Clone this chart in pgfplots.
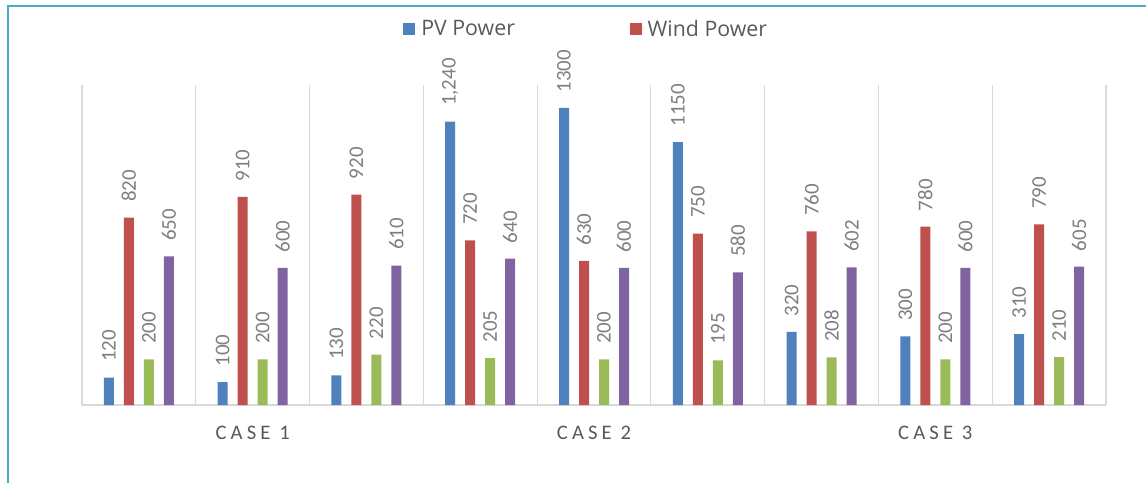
\documentclass[border=0pt]{standalone}
\usepackage{pgfplots}
\pgfplotsset{compat=1.18}
\usepackage{fontspec}
\setmainfont{Carlito}
\newfontfamily\legendfont{Open Sans}
\newfontfamily\casefont[LetterSpace=20]{Carlito}
\definecolor{pvblue}{HTML}{4F81BD}
\definecolor{windred}{HTML}{C0504D}
\definecolor{thirdgreen}{HTML}{9BBB59}
\definecolor{fourthpurple}{HTML}{8064A2}
\definecolor{framecol}{HTML}{4BACC6}
\definecolor{gridgray}{HTML}{D9D9D9}
\definecolor{labelgray}{HTML}{7F7F7F}
\definecolor{textgray}{HTML}{595959}

\begin{document}
\begin{tikzpicture}
\useasboundingbox (0,0) rectangle (859.5pt,361.5pt);
% outer frame (left and top edges)
\draw[framecol, line width=1.1pt] (6pt,-2pt) -- (6pt,357pt) -- (862pt,357pt);
\begin{axis}[
  at={(61.5pt,57.75pt)}, anchor=south west,
  width=768pt, height=240pt, scale only axis,
  xmin=-0.5, xmax=8.5, ymin=0, ymax=1400,
  ybar=7.5pt, bar width=7.5pt,
  axis y line=none,
  axis x line*=bottom,
  x axis line style={gridgray, line width=1.1pt, -},
  xtick={1,4,7},
  xticklabels={CASE 1,CASE 2,CASE 3},
  xtick style={draw=none},
  major tick length=0pt,
  xticklabel style={font=\casefont\fontsize{15.5}{18}\selectfont, text=textgray, anchor=base, yshift=-26pt},
  extra x ticks={-0.5,0.5,...,8.5},
  extra x tick labels={},
  extra x tick style={grid=major, major grid style={gridgray, line width=0.8pt}, tick style={draw=none}},
  point meta=explicit symbolic,
  nodes near coords,
  nodes near coords style={rotate=90, anchor=west, inner xsep=11.5pt, inner ysep=0pt,
    font=\fontsize{15.7}{18}\selectfont, text=labelgray},
  legend columns=2,
  legend entries={PV Power, Wind Power},
  legend style={draw=none, fill=none, at={(0.4927,1.175)}, anchor=center,
    font=\legendfont\fontsize{16}{18}\selectfont, text=textgray,
    /tikz/every even column/.append style={column sep=84pt}},
  every axis plot post/.append style={legend image code/.code={%
    \fill[##1] (0pt,-4.5pt) rectangle (9pt,4.5pt);
    \path (0pt,0pt) -- (11.5pt,0pt);}},
]
% PV power
\addplot[fill=pvblue, draw=none] coordinates {
  (0,120)[120] (1,100)[100] (2,130)[130] (3,1240)[1{,}240] (4,1300)[1300]
  (5,1150)[1150] (6,320)[320] (7,300)[300] (8,310)[310]};
% Wind power
\addplot[fill=windred, draw=none] coordinates {
  (0,820)[820] (1,910)[910] (2,920)[920] (3,720)[720] (4,630)[630]
  (5,750)[750] (6,760)[760] (7,780)[780] (8,790)[790]};
% third series
\addplot[fill=thirdgreen, draw=none] coordinates {
  (0,200)[200] (1,200)[200] (2,220)[220] (3,205)[205] (4,200)[200]
  (5,195)[195] (6,208)[208] (7,200)[200] (8,210)[210]};
% fourth series
\addplot[fill=fourthpurple, draw=none] coordinates {
  (0,650)[650] (1,600)[600] (2,610)[610] (3,640)[640] (4,600)[600]
  (5,580)[580] (6,602)[602] (7,600)[600] (8,605)[605]};
\end{axis}
\end{tikzpicture}
\end{document}
